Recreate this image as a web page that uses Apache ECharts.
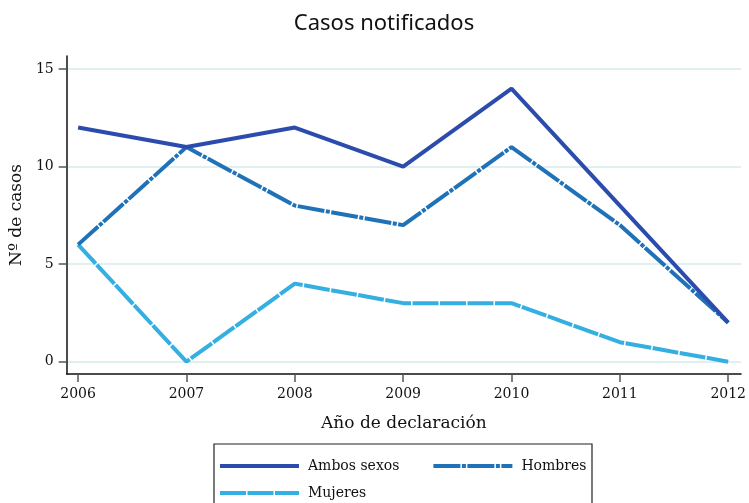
<!DOCTYPE html>
<html>
<head>
<meta charset="utf-8">
<script src="https://cdn.jsdelivr.net/npm/echarts@6/dist/echarts.min.js"></script>
<style>
  html, body { margin: 0; padding: 0; background: #fff; }
  #chart { width: 749px; height: 503px; }
</style>
</head>
<body>
<div id="chart"></div>
<script>
// Notified cases per year of declaration
const years = [2006, 2007, 2008, 2009, 2010, 2011, 2012];
const ambosSexos = [12, 11, 12, 10, 14, 8, 2];
const hombres = [6, 11, 8, 7, 11, 7, 2];
const mujeres = [6, 0, 4, 3, 3, 1, 0];
const yTicks = [0, 5, 10, 15];

const serif = 'DejaVu Serif';
const pairs = arr => years.map((y, i) => [y, arr[i]]);

// Legend keys: 79x4 strips reproducing each series' dash pattern
const keySolid = 'path://M0,0H79V4H0Z';
const keyDashDot = 'path://M0,0H27V4H0Z M28.5,0H32.5V4H28.5Z M34,0H61V4H34Z M62.5,0H66.5V4H62.5Z M68,0H79V4H68Z';
const keyDash = 'path://M0,0H26V4H0Z M27.5,0H53.5V4H27.5Z M55,0H79V4H55Z';

const legendBase = {
  show: true,
  orient: 'horizontal',
  left: 215,
  itemWidth: 79,
  itemHeight: 4,
  itemGap: 34,
  textStyle: { fontFamily: serif, fontSize: 14, color: '#111', padding: [0, 0, 0, 4] }
};

const chart = echarts.init(document.getElementById('chart'), null, { renderer: 'canvas' });

chart.setOption({
  animation: false,
  backgroundColor: '#ffffff',
  title: {
    text: 'Casos notificados',
    left: 379,
    textAlign: 'center',
    top: 8,
    textStyle: { fontFamily: 'Noto Sans', fontWeight: 'normal', fontSize: 22, color: '#111' }
  },
  grid: { left: 66, right: 4, top: 56, bottom: 129, containLabel: false },
  xAxis: {
    type: 'value',
    min: 2005.895,
    max: 2012.119,
    name: 'Año de declaración',
    nameLocation: 'middle',
    nameGap: 41,
    nameTextStyle: { fontFamily: serif, fontSize: 17, color: '#111' },
    axisLine: { show: true, onZero: false, lineStyle: { color: '#111', width: 1.5 } },
    axisTick: { show: true, length: 8, customValues: years, lineStyle: { color: '#555', width: 1.5 } },
    axisLabel: { customValues: years, fontFamily: serif, fontSize: 14, color: '#111', margin: 13, formatter: v => String(v) },
    splitLine: { show: false }
  },
  yAxis: {
    type: 'value',
    min: -0.631,
    max: 15.667,
    name: 'Nº de casos',
    nameLocation: 'middle',
    nameGap: 39,
    nameRotate: 90,
    nameTextStyle: { fontFamily: serif, fontSize: 17, color: '#111' },
    axisLine: { show: true, lineStyle: { color: '#111', width: 1.5 } },
    axisTick: { show: true, length: 8, customValues: yTicks, lineStyle: { color: '#555', width: 1.5 } },
    axisLabel: { customValues: yTicks, fontFamily: serif, fontSize: 14, color: '#111', margin: 13 },
    splitLine: { show: true, lineStyle: { color: '#e0eff0', width: 2 } }
  },
  legend: [
    Object.assign({}, legendBase, {
      top: 454,
      data: [
        { name: 'Ambos sexos', icon: keySolid },
        { name: 'Hombres', icon: keyDashDot }
      ]
    }),
    Object.assign({}, legendBase, {
      top: 481,
      data: [{ name: 'Mujeres', icon: keyDash }]
    })
  ],
  graphic: [{
    type: 'rect',
    shape: { x: 214, y: 444, width: 378, height: 80 },
    style: { fill: 'none', stroke: '#222', lineWidth: 1.2 },
    silent: true,
    z: -1
  }],
  series: [
    {
      name: 'Ambos sexos',
      type: 'line',
      data: pairs(ambosSexos),
      symbol: 'none',
      color: '#2b4cad',
      lineStyle: { width: 4, color: '#2b4cad' },
      z: 3
    },
    {
      name: 'Hombres',
      type: 'line',
      data: pairs(hombres),
      symbol: 'none',
      color: '#1f72b8',
      lineStyle: { width: 4, color: '#1f72b8', type: [27, 1.5, 4, 1.5] },
      z: 2
    },
    {
      name: 'Mujeres',
      type: 'line',
      data: pairs(mujeres),
      symbol: 'none',
      color: '#34afe1',
      lineStyle: { width: 4, color: '#34afe1', type: [26, 1.5] },
      z: 1
    }
  ]
});
</script>
</body>
</html>
